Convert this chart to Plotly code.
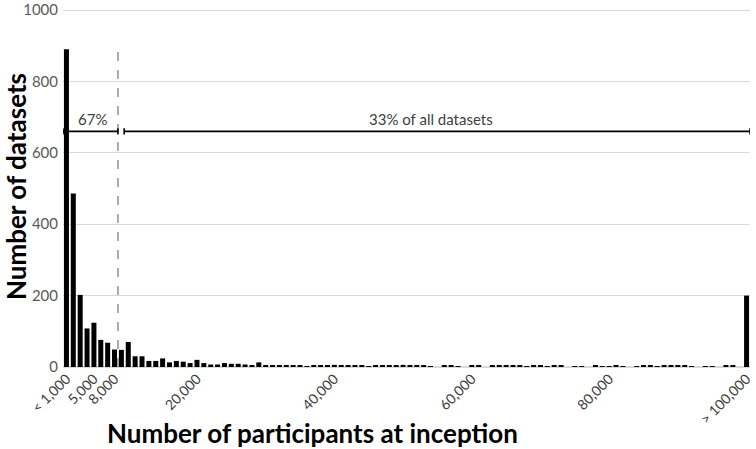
import plotly.graph_objects as go

# bin index (1 = "< 1,000", each step = 1,000 participants, 100 = "> 100,000")
bins = list(range(1, 101))
counts = [890, 486, 202, 108, 124, 76, 68, 49, 48, 70,
          30, 30, 17, 17, 24, 13, 17, 15, 11, 20,
          11, 7, 7, 11, 9, 9, 7, 5, 13, 5,
          4, 3, 4, 4, 4, 2, 4, 4, 3, 6,
          3, 5, 5, 3, 2, 4, 3, 3, 5, 6,
          5, 4, 3, 2, 0, 3, 3, 2, 0, 5,
          4, 0, 3, 3, 5, 3, 3, 2, 3, 3,
          2, 3, 3, 0, 2, 2, 0, 3, 2, 2,
          3, 2, 0, 2, 3, 3, 2, 3, 3, 5,
          3, 2, 0, 2, 2, 0, 5, 3, 0, 200]
tick_vals = [1, 5, 8, 20, 40, 60, 80, 100]
tick_text = ["< 1,000", "5,000", "8,000", "20,000", "40,000", "60,000", "80,000", "> 100,000"]
y_ticks = [0, 200, 400, 600, 800, 1000]

split_x = 8.5
arrow_y = 660
label_small = "67%"
label_large = "33% of all datasets"

FONT = "Lato"
fig = go.Figure()
fig.add_trace(go.Bar(x=bins, y=counts, marker_color="black", width=0.73,
                     marker_line_width=0, showlegend=False))

# dashed split line
fig.add_shape(type="line", x0=split_x, x1=split_x, y0=0, y1=895,
              line=dict(color="#595959", width=1, dash="dash"))

# range arrows with end caps
def bracket(x0, x1, y):
    fig.add_shape(type="line", x0=x0, x1=x1, y0=y, y1=y, line=dict(color="black", width=1.6))
    for xx in (x0, x1):
        fig.add_shape(type="line", x0=xx, x1=xx, y0=y - 9, y1=y + 9,
                      line=dict(color="black", width=1.6))

bracket(0.5, split_x, arrow_y)
bracket(9.4, 100.5, arrow_y)

PH = 367.0  # plot height in px
fig.add_annotation(x=4.8, y=696, text=label_small, showarrow=False,
                   font=dict(family=FONT, size=15, color="#404040"))
fig.add_annotation(x=54.1, y=696, text=label_large, showarrow=False,
                   font=dict(family=FONT, size=15, color="#404040"))
fig.add_annotation(xref="paper", yref="paper", x=(312 - 63) / 687, y=-(433 - 367) / PH,
                   yanchor="middle", xanchor="center",
                   text="<b>Number of participants at inception</b>", showarrow=False,
                   font=dict(family=FONT, size=26, color="black"))
fig.add_annotation(xref="paper", yref="paper", x=-(63 - 16) / 687, y=(367 - 187) / PH,
                   yanchor="middle", xanchor="center", textangle=-90,
                   text="<b>Number of datasets</b>", showarrow=False,
                   font=dict(family=FONT, size=26, color="black"))

fig.update_layout(
    width=756, height=449,
    margin=dict(l=63, r=6, t=0, b=82, autoexpand=False),
    plot_bgcolor="white", paper_bgcolor="white",
    bargap=0.27,
    font=dict(family=FONT, color="#595959"),
    xaxis=dict(range=[0.5, 100.5], tickvals=tick_vals, ticktext=tick_text,
               tickangle=-45, showgrid=False, zeroline=False, showline=False,
               automargin=False, ticks="", ticklabeloverflow="allow",
               tickfont=dict(size=14, color="#404040")),
    yaxis=dict(range=[0, 1028], tickvals=y_ticks, showgrid=True, gridcolor="#d9d9d9",
               gridwidth=1, zeroline=True, zerolinecolor="#d9d9d9", showline=False,
               automargin=False, ticks="", ticklabelstandoff=4, ticklabeloverflow="allow",
               tickfont=dict(size=15, color="#595959")),
)
fig.write_html("out.html", config={"displayModeBar": False},
               post_script="document.body.style.margin='0';document.body.style.overflow='hidden';")
